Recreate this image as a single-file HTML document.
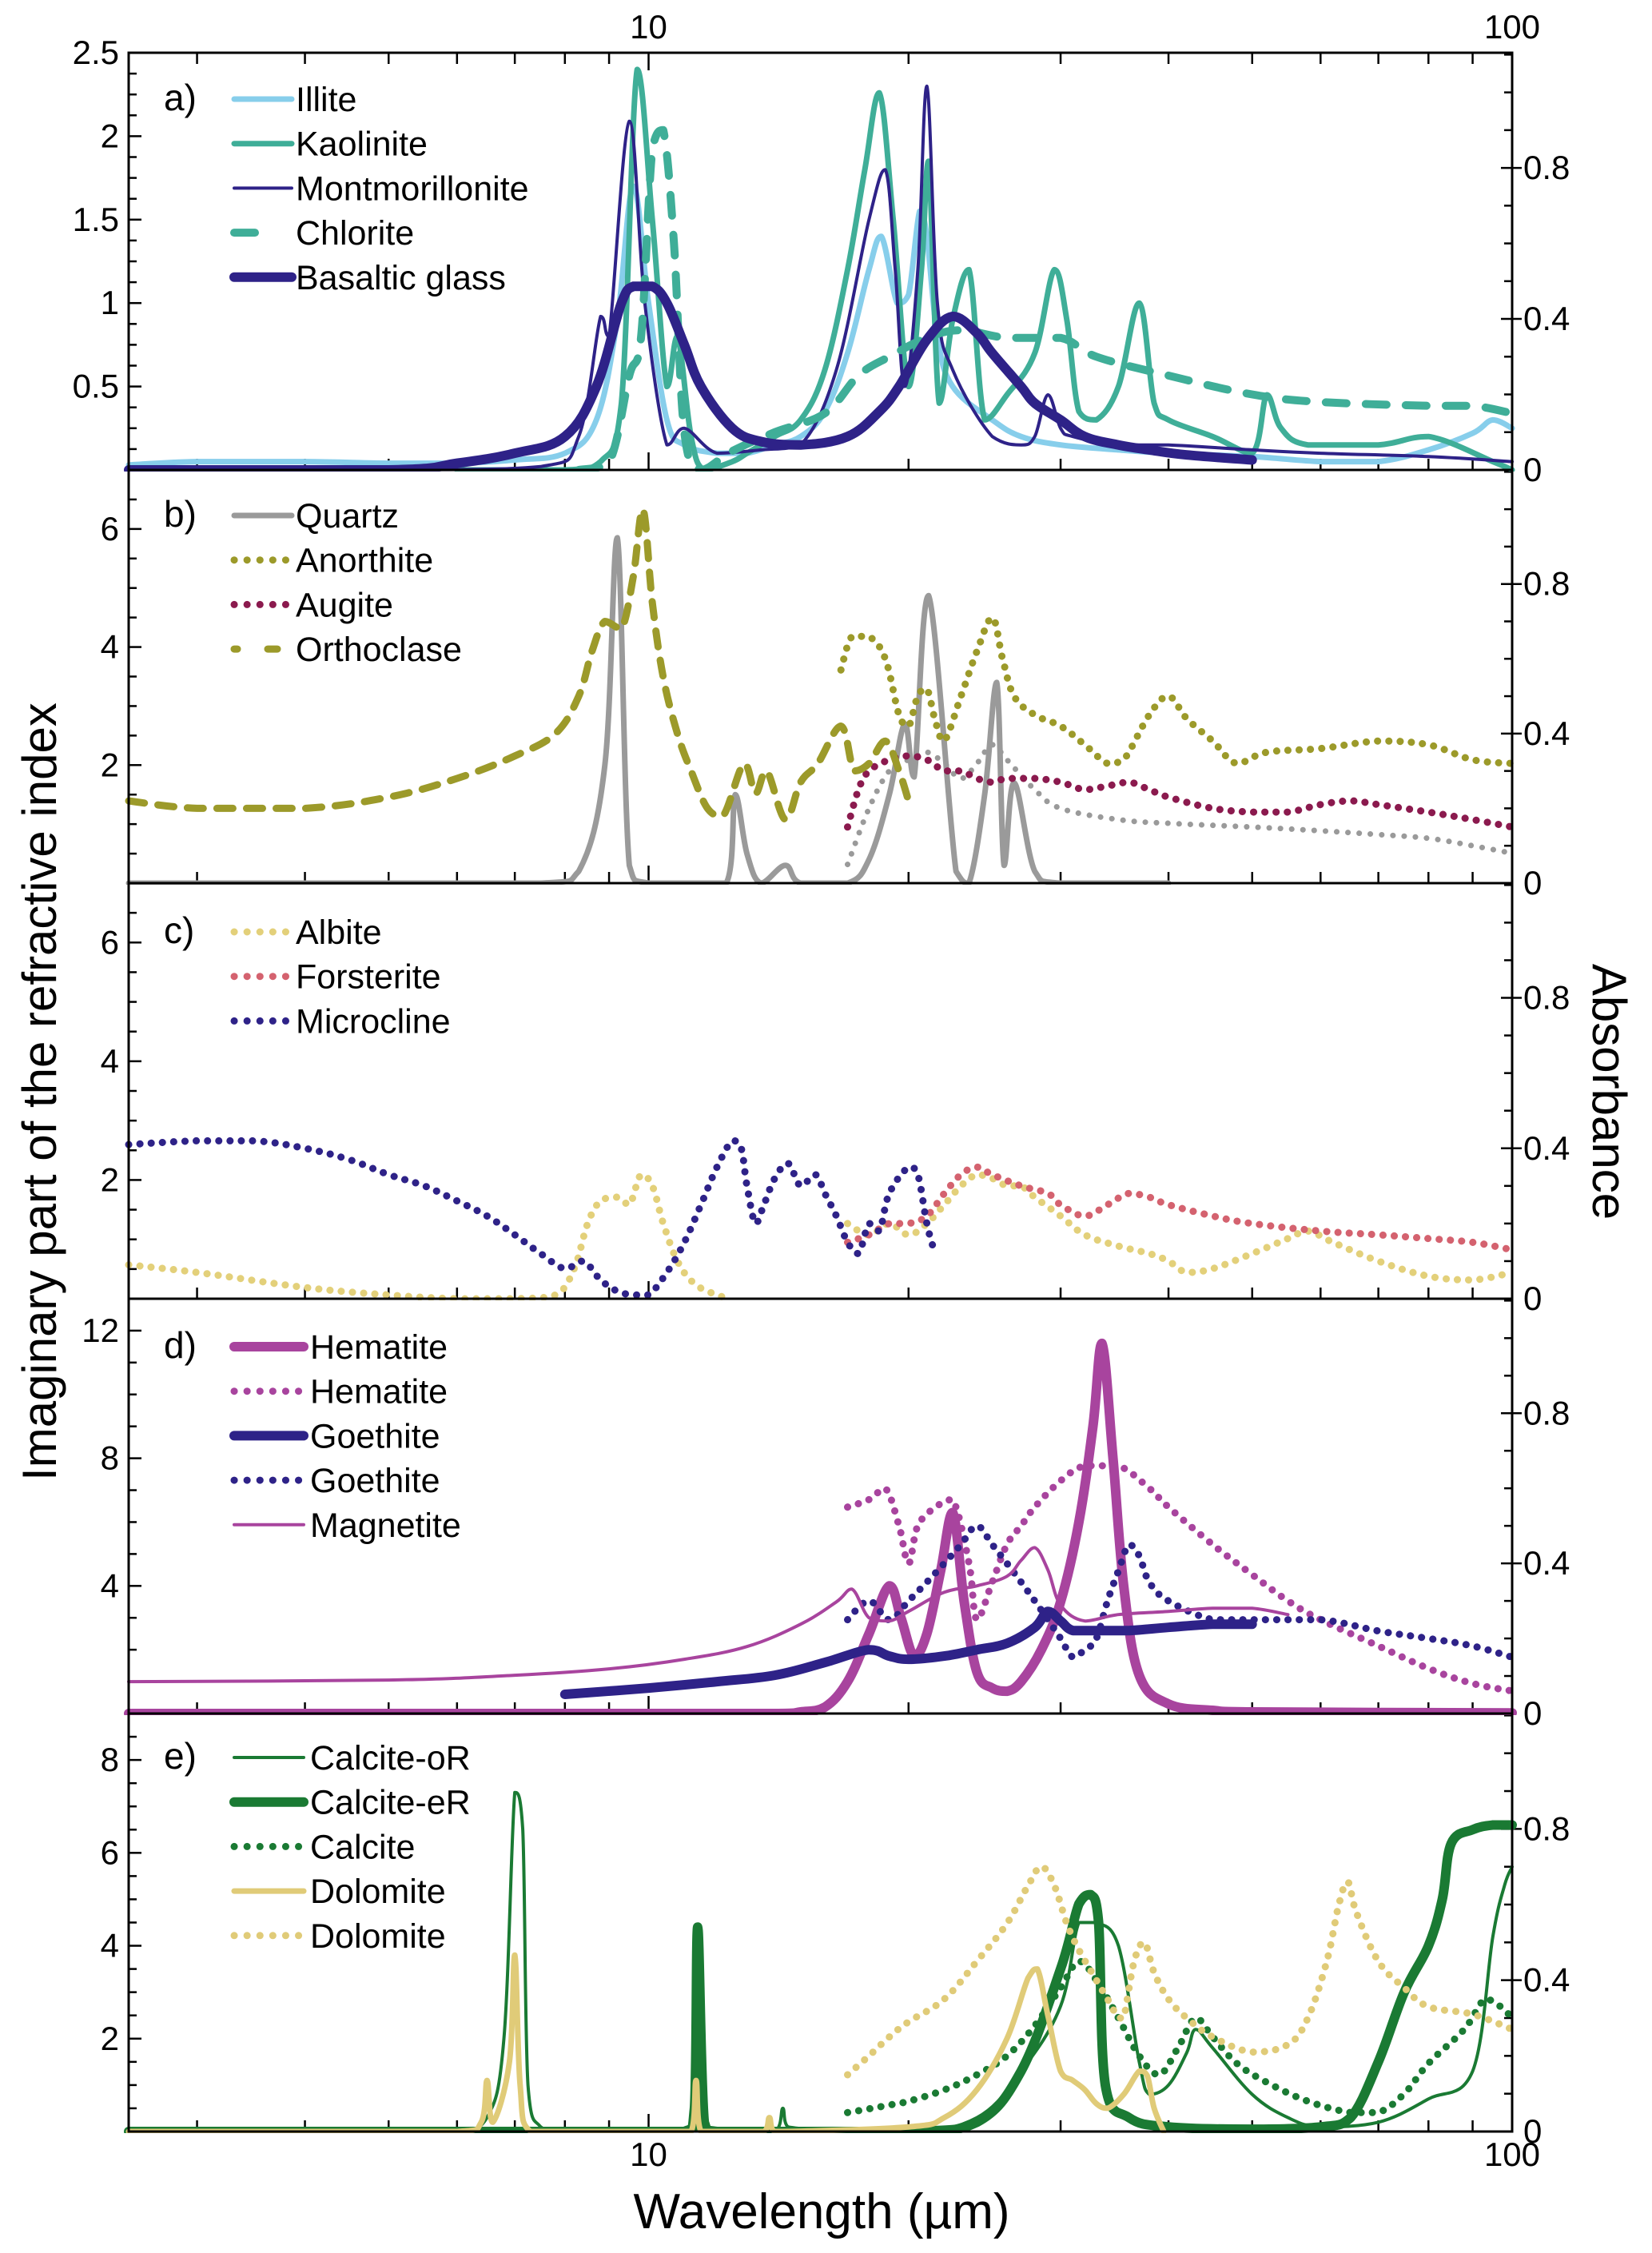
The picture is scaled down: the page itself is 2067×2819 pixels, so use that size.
<!DOCTYPE html>
<html><head><meta charset="utf-8">
<style>
html,body{margin:0;padding:0;background:#fff;}
svg{display:block;font-family:"Liberation Sans",Arial,sans-serif;}
</style></head>
<body>
<svg id="chart" width="2067" height="2819" viewBox="0 0 2067 2819" xmlns="http://www.w3.org/2000/svg"></svg>
<script>
// ---------- data (wavelength µm / value) ----------
// Panel a
const illiteW=[2.5,3,4,5,6,7,8,8.7,9.2,9.6,10,10.5,11,12,13,14,15,16,17,18,18.6,19.4,20,20.6,21,21.6,22.5,25,27,30,35,40,50,60,70,80,90,95,100];
const illiteV=[0.03,0.05,0.05,0.04,0.04,0.06,0.1,0.3,0.9,1.7,1.0,0.3,0.15,0.1,0.1,0.15,0.2,0.35,0.7,1.2,1.4,1.0,1.05,1.55,1.4,0.8,0.5,0.3,0.2,0.15,0.12,0.1,0.08,0.05,0.05,0.12,0.22,0.3,0.25];
const kaoliniteW=[6,8,8.8,9.3,9.7,10.1,10.5,10.8,11.2,11.6,12.5,13,14,15,16,17,17.8,18.5,19.2,20,20.7,21.1,21.7,22.5,23.5,24.5,26,28,29.5,30.5,31.5,33,35,37,38.5,40,45,50,52,54,58,70,80,95,100];
const kaoliniteV=[0,0,0.05,0.4,2.4,1.5,0.5,0.8,0.2,0,0.05,0.1,0.2,0.3,0.6,1.2,1.8,2.26,1.5,0.5,1.2,1.85,0.4,0.9,1.2,0.3,0.45,0.7,1.2,0.9,0.35,0.3,0.5,1.0,0.4,0.3,0.2,0.1,0.45,0.25,0.15,0.15,0.2,0.05,0.0];
const montW=[2.5,5,7.5,8.3,8.8,9.0,9.5,9.9,10.5,11,12,13.5,15,16.5,18,18.8,19.3,19.8,20.5,21,21.6,22.5,25,27,28,29,30,31,35,40,50,60,80,100];
const montV=[0,0,0.02,0.2,0.92,0.8,2.09,1.0,0.15,0.25,0.1,0.12,0.15,0.6,1.5,1.8,1.2,0.5,1.2,2.3,1.0,0.6,0.2,0.15,0.2,0.45,0.25,0.2,0.15,0.15,0.12,0.1,0.08,0.05];
const basaltW=[2.5,5,6,7,8,8.7,9.3,9.6,10.1,10.5,11,11.5,12.5,13.5,15,17,18.5,19.5,21,22.5,24,25,27,28,30,32,35,38,42,50];
const basaltV=[0,0,0.04,0.1,0.2,0.5,1.0,1.1,1.1,1.0,0.75,0.5,0.25,0.17,0.15,0.2,0.35,0.5,0.78,0.92,0.82,0.7,0.5,0.4,0.3,0.2,0.15,0.12,0.09,0.06];
const chloriteW=[8.3,9,9.5,9.8,10.1,10.4,10.7,11,11.5,12.5,14,16,17.5,19,21,23,26,30,33,40,50,60,80,90,100];
const chloriteV=[0,0.02,0.25,0.35,0.85,0.9,0.6,0.1,0,0.05,0.1,0.15,0.25,0.3,0.35,0.37,0.35,0.35,0.3,0.25,0.2,0.18,0.17,0.17,0.15];
// Panel b
const quartzW=[2.5,7.5,8.3,8.9,9.2,9.5,10,12.3,12.6,13,13.5,14.4,15,17,18,19,19.8,20.3,21.1,22.7,23.5,24.5,25.3,25.8,26.5,28,30,40];
const quartzV=[0,0,0.2,2,5.85,0.3,0,0,1.5,0.5,0,0.3,0,0,0.4,1.5,2.7,1.8,4.87,0.2,0,1.5,3.4,0.3,1.7,0.2,0,0];
const quartzAW=[17,18,19,20,21,22,23,24,25,26,28,30,35,40,50,60,70,80,90,100];
const quartzAV=[0.05,0.2,0.3,0.33,0.35,0.32,0.28,0.32,0.37,0.33,0.25,0.2,0.17,0.16,0.15,0.14,0.13,0.12,0.1,0.08];
const anorthiteW=[16.7,17.2,18,18.8,19.5,20,20.5,21,21.5,22,23,24,25,25.7,26.5,28,30,32,34,35.5,38,40,42,45,48,52,60,70,80,90,100];
const anorthiteV=[0.57,0.66,0.66,0.6,0.45,0.42,0.5,0.52,0.43,0.38,0.5,0.62,0.71,0.6,0.5,0.45,0.42,0.37,0.32,0.33,0.45,0.5,0.44,0.38,0.32,0.35,0.36,0.38,0.37,0.33,0.32];
const augiteW=[17,17.5,18,19,20,21,22,23,24,25,26,28,30,32,34,36,38,40,45,50,55,60,65,70,80,90,100];
const augiteV=[0.15,0.25,0.3,0.33,0.34,0.33,0.3,0.3,0.28,0.27,0.28,0.28,0.27,0.25,0.26,0.27,0.25,0.23,0.2,0.19,0.19,0.21,0.22,0.21,0.19,0.17,0.15];
const orthoclaseW=[2.5,3,4,5,6,7,7.8,8.3,8.6,8.9,9.3,9.6,9.85,10.1,10.4,10.8,11.2,11.7,12.2,12.9,13.3,13.7,14.4,15,15.7,16.7,17.3,18,18.8,19.5,20];
const orthoclaseV=[0.22,0.2,0.2,0.23,0.28,0.34,0.4,0.5,0.62,0.7,0.68,0.82,1.0,0.75,0.55,0.4,0.3,0.2,0.18,0.32,0.24,0.3,0.17,0.27,0.32,0.42,0.3,0.32,0.38,0.3,0.22];
// Panel c
const albiteW=[2.5,3,4,5,6,7,7.8,8.2,8.5,8.8,9.2,9.5,9.8,10.1,10.4,10.8,11.3,12,12.5];
const albiteV=[0.09,0.07,0.03,0.01,0,0,0.01,0.08,0.2,0.26,0.27,0.25,0.33,0.3,0.2,0.1,0.04,0.01,0];
const albite2W=[17,18,19,20,21,22,23,24,25,26,27,28,30,32,35,38,40,42,45,50,55,58,62,70,80,90,100];
const albite2V=[0.2,0.17,0.2,0.17,0.2,0.25,0.3,0.33,0.32,0.3,0.3,0.27,0.22,0.17,0.14,0.12,0.1,0.07,0.08,0.12,0.16,0.18,0.15,0.1,0.06,0.05,0.07];
const forsteriteW=[17,18,19,20,21,22,23,24,25,27,29,30,32,34,36,38,40,45,50,60,70,80,90,100];
const forsteriteV=[0.15,0.17,0.2,0.2,0.22,0.28,0.33,0.35,0.33,0.3,0.28,0.25,0.22,0.25,0.28,0.27,0.25,0.22,0.2,0.18,0.17,0.16,0.15,0.13];
const microclineW=[2.5,3,3.5,4,4.5,5,5.5,6,6.5,7,7.5,8,8.4,8.8,9.2,9.6,10,10.5,11,11.5,12,12.5,12.8,13,13.3,13.6,14,14.5,15,15.6,16,16.5,17,17.5,18,18.5,19,20,20.5,21,21.4];
const microclineV=[0.41,0.42,0.42,0.4,0.37,0.33,0.3,0.26,0.22,0.17,0.12,0.08,0.1,0.05,0.02,0.01,0.01,0.07,0.15,0.25,0.35,0.42,0.4,0.3,0.2,0.25,0.32,0.36,0.3,0.33,0.28,0.22,0.15,0.12,0.2,0.18,0.28,0.35,0.33,0.2,0.13];
// Panel d
const hematiteW=[2.5,10,14,15,16,17,18,19,19.6,20.3,21,21.8,22.5,23.2,24,25,26,27,28.5,30,31.5,32.7,33.5,34.5,35.5,37,40,45,50,100];
const hematiteV=[0,0,0,0.05,0.2,1.0,2.5,4.0,3.0,1.8,2.5,4.5,6.3,3.5,1.3,0.8,0.7,1.0,2.0,3.5,6,9,11.6,8,4,1.2,0.3,0.1,0.05,0.02];
const hematiteAW=[17,18,18.8,19.5,20,20.5,21.5,22.5,23.5,24,25,26,27,28,30,32,35,38,40,45,50,55,60,70,80,90,100];
const hematiteAV=[0.55,0.57,0.6,0.5,0.4,0.5,0.55,0.57,0.4,0.25,0.35,0.45,0.5,0.55,0.62,0.66,0.66,0.6,0.55,0.45,0.37,0.3,0.25,0.18,0.12,0.08,0.06];
const goethiteW=[8,10,12,14,16,18,19,20,22,24,26,28,29,30,31,33,36,40,45,50];
const goethiteV=[0.6,0.8,1.0,1.2,1.6,2.0,1.8,1.7,1.8,2.0,2.2,2.7,3.2,2.9,2.6,2.6,2.6,2.7,2.8,2.8];
const goethiteAW=[17,18,19,20,21,22,23,24,25,26,27,28,29,30,31,32,33,34,35,36,37,38,40,45,50,60,70,80,90,100];
const goethiteAV=[0.25,0.3,0.25,0.3,0.35,0.4,0.45,0.5,0.45,0.4,0.35,0.3,0.25,0.2,0.15,0.17,0.2,0.3,0.38,0.45,0.42,0.35,0.3,0.25,0.25,0.25,0.22,0.2,0.18,0.15];
const magnetiteW=[2.5,5,7,9,11,13,15,16.5,17.2,18,19,20,22,24,26,27,28,29,30,32,35,40,45,50,55];
const magnetiteV=[1.0,1.05,1.2,1.4,1.7,2.1,2.8,3.5,3.9,3.0,2.9,3.2,3.8,4.0,4.3,4.8,5.2,4.5,3.4,2.9,3.1,3.2,3.3,3.3,3.1];
// Panel e
const calciteOW=[5,6,6.5,6.8,7.0,7.15,7.25,7.5,8,11,11.5,11.6,11.7,12,14,14.3,14.5,20,24,27,30,31.5,33,35,37,38,40,42,43,45,50,55,60,70,80,90,95,98,100];
const calciteOV=[0,0,0.3,2,7.3,6.5,1,0.1,0,0,0.2,1,0.2,0,0,0.5,0.1,0,0.3,1.3,2.7,4.5,4.5,4.0,1.5,0.8,1.0,1.7,2.2,1.8,0.8,0.3,0.1,0.2,0.7,1.3,4.2,5.3,5.7];
const calciteEW=[2.5,6,11,11.3,11.4,11.6,12,20,24,27,30,31.5,32.5,33.2,33.8,36,40,50,60,65,70,75,80,83,85,90,95,100];
const calciteEV=[0,0,0,0.5,4.4,0.2,0,0,0.2,1.3,3.5,4.9,5.1,4.5,1.0,0.3,0.1,0.05,0.1,0.3,1.5,3.0,4.0,5.0,6.2,6.5,6.6,6.6];
const calciteAW=[17,18,19,20,22,24,26,28,30,31.5,33,35,37,39,41,43,45,48,52,58,65,70,75,80,88,93,97,100];
const calciteAV=[0.05,0.06,0.07,0.08,0.11,0.15,0.2,0.28,0.38,0.45,0.4,0.3,0.2,0.15,0.22,0.3,0.25,0.18,0.13,0.08,0.05,0.05,0.1,0.18,0.27,0.35,0.33,0.3];
const dolomiteW=[2.5,6,6.4,6.5,6.6,6.9,7.0,7.1,7.3,11.2,11.35,11.5,13.6,13.8,14,20,22,24,26,27.5,28.2,29,30,31,32,33,34,35.5,37,37.8,38.5,39.5];
const dolomiteV=[0,0,0.2,1.1,0.2,1.5,3.8,1.0,0,0,1.1,0,0,0.3,0,0.1,0.3,0.9,2.0,3.3,3.5,2.5,1.3,1.1,0.9,0.6,0.5,0.8,1.3,1.2,0.5,0];
const dolomiteAW=[17,18,19,20,22,24,26,27.5,28.5,29.5,30.5,31.5,33,34,35,35.5,36.5,37.5,38.5,40,42,45,50,55,58,61,63,64.5,66,70,75,80,90,100];
const dolomiteAV=[0.15,0.2,0.25,0.29,0.35,0.45,0.55,0.65,0.7,0.65,0.55,0.48,0.4,0.35,0.3,0.3,0.45,0.5,0.42,0.35,0.3,0.25,0.21,0.23,0.3,0.45,0.6,0.66,0.58,0.45,0.38,0.33,0.31,0.27];

// ---------- layout ----------
const L=161,R=1892;
const tops=[66,588,1105,1625,2144], bots=[588,1105,1625,2144,2667];
const leftMax=[2.5,7,7,13,9], rightMax=1.105;
const NS='http://www.w3.org/2000/svg';
const svg=document.getElementById('chart');
function X(w){return L+(R-L)*Math.log10(w/2.5)/Math.log10(40);}
function YL(p,v){return bots[p]-(bots[p]-tops[p])*v/leftMax[p];}
function YR(p,v){return bots[p]-(bots[p]-tops[p])*v/rightMax;}
function mk(tag,attrs,parent){const e=document.createElementNS(NS,tag);for(const k in attrs)e.setAttribute(k,attrs[k]);(parent||svg).appendChild(e);return e;}
function smoothPath(pts){
 let d='M'+pts[0][0].toFixed(1)+' '+pts[0][1].toFixed(1);
 const t=0.18;
 for(let i=0;i<pts.length-1;i++){
  const p0=pts[Math.max(0,i-1)],p1=pts[i],p2=pts[i+1],p3=pts[Math.min(pts.length-1,i+2)];
  const lo=Math.min(p1[1],p2[1]),hi=Math.max(p1[1],p2[1]);
  let c1x=p1[0]+(p2[0]-p0[0])*t, c1y=p1[1]+(p2[1]-p0[1])*t;
  let c2x=p2[0]-(p3[0]-p1[0])*t, c2y=p2[1]-(p3[1]-p1[1])*t;
  c1y=Math.min(hi,Math.max(lo,c1y)); c2y=Math.min(hi,Math.max(lo,c2y));
  c1x=Math.min(p2[0],Math.max(p1[0],c1x)); c2x=Math.min(p2[0],Math.max(p1[0],c2x));
  d+='C'+c1x.toFixed(1)+' '+c1y.toFixed(1)+' '+c2x.toFixed(1)+' '+c2y.toFixed(1)+' '+p2[0].toFixed(1)+' '+p2[1].toFixed(1);
 }
 return d;
}

const C={illite:'#87ceeb',kao:'#3fae98',dark:'#2e2288',quartz:'#9a9a9a',olive:'#9c9a2a',augite:'#8b1a4e',albite:'#e3d07a',forst:'#d4626f',hem:'#a8449e',calc:'#1a7a33',dol:'#e0cb78'};
const ST={
 thin:{w:4,d:null},med:{w:7,d:null},thick:{w:12,d:null},
 dot:{w:9,d:'0.1 14'},dash:{w:10,d:'26 24'},dash2:{w:9,d:'20 17'}
};
const series=[
 {name:'illite',p:0,ax:'L',W:illiteW,V:illiteV,c:C.illite,s:'med',leg:'Illite'},
 {name:'kaolinite',p:0,ax:'L',W:kaoliniteW,V:kaoliniteV,c:C.kao,s:'med',leg:'Kaolinite'},
 {name:'montmorillonite',p:0,ax:'L',W:montW,V:montV,c:C.dark,s:'thin',leg:'Montmorillonite'},
 {name:'chlorite',p:0,ax:'R',W:chloriteW,V:chloriteV,c:C.kao,s:'dash',leg:'Chlorite'},
 {name:'basaltic-glass',p:0,ax:'L',W:basaltW,V:basaltV,c:C.dark,s:'thick',leg:'Basaltic glass'},
 {name:'quartz',p:1,ax:'L',W:quartzW,V:quartzV,c:C.quartz,s:'med',leg:'Quartz'},
 {name:'quartz-absorbance',p:1,ax:'R',W:quartzAW,V:quartzAV,c:C.quartz,s:'dot',w:7},
 {name:'anorthite',p:1,ax:'R',W:anorthiteW,V:anorthiteV,c:C.olive,s:'dot',leg:'Anorthite'},
 {name:'augite',p:1,ax:'R',W:augiteW,V:augiteV,c:C.augite,s:'dot',leg:'Augite'},
 {name:'orthoclase',p:1,ax:'R',W:orthoclaseW,V:orthoclaseV,c:C.olive,s:'dash2',leg:'Orthoclase'},
 {name:'albite',p:2,ax:'R',W:albiteW,V:albiteV,c:C.albite,s:'dot',leg:'Albite'},
 {name:'albite-far-ir',p:2,ax:'R',W:albite2W,V:albite2V,c:C.albite,s:'dot'},
 {name:'forsterite',p:2,ax:'R',W:forsteriteW,V:forsteriteV,c:C.forst,s:'dot',leg:'Forsterite'},
 {name:'microcline',p:2,ax:'R',W:microclineW,V:microclineV,c:C.dark,s:'dot',leg:'Microcline'},
 {name:'hematite',p:3,ax:'L',W:hematiteW,V:hematiteV,c:C.hem,s:'thick',leg:'Hematite'},
 {name:'hematite-absorbance',p:3,ax:'R',W:hematiteAW,V:hematiteAV,c:C.hem,s:'dot',leg:'Hematite'},
 {name:'goethite',p:3,ax:'L',W:goethiteW,V:goethiteV,c:C.dark,s:'thick',leg:'Goethite'},
 {name:'goethite-absorbance',p:3,ax:'R',W:goethiteAW,V:goethiteAV,c:C.dark,s:'dot',leg:'Goethite'},
 {name:'magnetite',p:3,ax:'L',W:magnetiteW,V:magnetiteV,c:C.hem,s:'thin',leg:'Magnetite'},
 {name:'calcite-or',p:4,ax:'L',W:calciteOW,V:calciteOV,c:C.calc,s:'thin',leg:'Calcite-oR'},
 {name:'calcite-er',p:4,ax:'L',W:calciteEW,V:calciteEV,c:C.calc,s:'thick',leg:'Calcite-eR'},
 {name:'calcite-absorbance',p:4,ax:'R',W:calciteAW,V:calciteAV,c:C.calc,s:'dot',leg:'Calcite'},
 {name:'dolomite',p:4,ax:'L',W:dolomiteW,V:dolomiteV,c:C.dol,s:'med',leg:'Dolomite'},
 {name:'dolomite-absorbance',p:4,ax:'R',W:dolomiteAW,V:dolomiteAV,c:C.dol,s:'dot',leg:'Dolomite'}
];
const legX=[[293,365,370],[293,365,370],[293,365,370],[293,380,388],[293,380,388]];
const legY0=[124,645,1166,1685,2199];
const panelLetters=['a)','b)','c)','d)','e)'];
const leftTicks=[[0.5,1,1.5,2,2.5],[2,4,6],[2,4,6],[4,8,12],[2,4,6,8]];
const leftMinor=[0.125,0.5,0.5,1,0.5];
const minorW=[3,4,5,6,7,8,9,10,20,30,40,50,60,70,80,90,100];

// ---------- panels ----------
for(let p=0;p<5;p++){
 const g=mk('g',{});  
 const cp=mk('clipPath',{id:'cp'+p},g); mk('rect',{x:L-8,y:tops[p]-4,width:R-L+16,height:bots[p]-tops[p]+6},cp);
 for(const w of minorW){
  const x=X(w), big=(w===10||w===100);
  const t1=mk('line',{x1:x,x2:x,y1:bots[p],y2:bots[p]-(big?22:14),stroke:'#000','stroke-width':2.5},g);
   
  if(p===0){const t2=mk('line',{x1:x,x2:x,y1:tops[p],y2:tops[p]+(big?22:14),stroke:'#000','stroke-width':2.5},g);
    }
 }
 for(let v=leftMinor[p];v<=leftMax[p]+1e-6;v+=leftMinor[p]){
  const y=YL(p,v); const maj=leftTicks[p].some(t=>Math.abs(t-v)<1e-6);
  const t=mk('line',{x1:L,x2:L+(maj?16:10),y1:y,y2:y,stroke:'#000','stroke-width':2.5},g);
   
 }
 for(const v of leftTicks[p]){
  const t=mk('text',{x:L-12,y:YL(p,v)+14,'text-anchor':'end','font-size':42},g); t.textContent=String(v);
   
 }
 for(let i=1;i<=11;i++){
  const v=i*0.1; if(v>rightMax) break; const y=YR(p,v); const maj=(i===4||i===8);
  const t=mk('line',{x1:R-(maj?14:10),x2:R+(maj?12:0),y1:y,y2:y,stroke:'#000','stroke-width':2.5},g);
   
 }
 for(const [v,s] of [[0,'0'],[0.4,'0.4'],[0.8,'0.8']]){
  const t=mk('text',{x:R+14,y:YR(p,v)+14,'text-anchor':'start','font-size':42},g); t.textContent=s;
   
 }
 const lt=mk('text',{x:205,y:legY0[p]+14,'font-size':46},g); lt.textContent=panelLetters[p];
  
}
// series
const legCount=[0,0,0,0,0];
for(const s of series){
 const st=ST[s.s]; const Y=s.ax==='L'?YL:YR;
 const pts=[]; for(let i=0;i<s.W.length;i++){pts.push([X(s.W[i]),Y(s.p,s.V[i])]);}
 const path=mk('path',{d:smoothPath(pts),fill:'none',stroke:s.c,'stroke-width':s.w||st.w,'stroke-linecap':'round','stroke-linejoin':'round','clip-path':'url(#cp'+s.p+')'});
 if(st.d) path.setAttribute('stroke-dasharray',st.d);
 
 
 if(s.leg){
  const k=legCount[s.p]++; const y=legY0[s.p]+k*55.7; const lx=legX[s.p];
  const lg=mk('g',{});
  
  
  const ll=mk('line',{x1:lx[0],x2:lx[1]-(st.d?6:0),y1:y,y2:y,stroke:s.c,'stroke-width':s.w||st.w,'stroke-linecap':'round'},lg);
  if(st.d) ll.setAttribute('stroke-dasharray',s.s==='dot'?'0.1 16':(s.s==='dash'?'26 999':'4 38 12 99'));
  const tx=mk('text',{x:lx[2],y:y+15,'font-size':43},lg); tx.textContent=s.leg;
 }
}
for(let p=0;p<5;p++){
 const r=mk('rect',{x:L,y:tops[p],width:R-L,height:bots[p]-tops[p],fill:'none',stroke:'#000','stroke-width':3});
  
}
function label(txt,x,y,size,rot,name){
 const t=mk('text',{x:x,y:y,'font-size':size,'text-anchor':'middle'});
 if(rot) t.setAttribute('transform','rotate('+rot+' '+x+' '+y+')');
 t.textContent=txt;  
}
label('10',X(10),48,42,0,'top-tick-label');
label('100',X(100),48,42,0,'top-tick-label');
label('10',X(10),2710,42,0,'x-tick-label');
label('100',X(100),2710,42,0,'x-tick-label');
label('Wavelength (µm)',1028,2788,62,0,'x-axis-title');
label('Imaginary part of the refractive index',70,1366,60,-90,'y-axis-title-left');
label('Absorbance',1993,1366,60,90,'y-axis-title-right');
</script>
</body></html>
